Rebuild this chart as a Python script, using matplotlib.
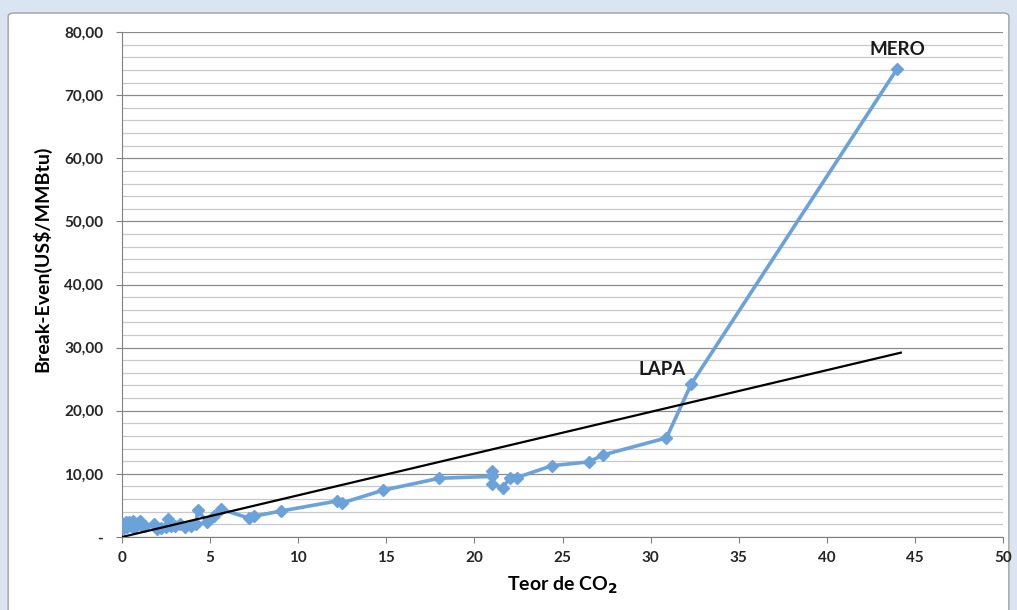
import matplotlib
matplotlib.use("Agg")
import matplotlib.pyplot as plt
from matplotlib.patches import FancyBboxPatch
from matplotlib.ticker import MultipleLocator, FuncFormatter

# teor de CO2 (%) x break-even (US$/MMBtu)
teor_co2 = [0.0, 0.1, 0.2, 0.3, 0.4, 0.5, 0.6, 0.7, 0.9, 1.0, 1.1, 1.3,
            1.8, 2.0, 2.2, 2.5, 2.6, 2.8, 3.0, 3.3, 3.6, 3.9, 4.2, 4.3,
            4.8, 5.2, 5.6, 7.2, 7.5, 9.0, 12.2, 12.5, 14.8, 18.0, 21.0,
            21.0, 21.0, 21.6, 22.0, 22.4, 24.4, 26.5, 27.3, 30.9, 32.3, 44.0]
break_even = [2.2, 1.4, 2.4, 1.6, 2.3, 1.8, 2.5, 1.5, 2.2, 2.6, 1.9, 1.7,
              2.0, 1.2, 1.5, 1.6, 2.8, 1.8, 1.7, 2.0, 1.6, 1.8, 2.1, 4.3,
              2.4, 3.3, 4.4, 3.0, 3.3, 4.1, 5.7, 5.4, 7.4, 9.3, 9.6,
              10.4, 8.4, 7.8, 9.3, 9.4, 11.3, 11.9, 13.0, 15.7, 24.2, 74.2]

trend_x = [0, 44.2]
trend_y = [0, 29.2]

campos = ["MERO", "LAPA"]
campos_pos = [(44.0, 77.3), (30.65, 26.5)]

plt.rcParams['font.family'] = ['Lato', 'DejaVu Sans']

fig = plt.figure(figsize=(10.17, 6.10), dpi=100)
fig.patch.set_facecolor("#dbe5f1")
caixa = FancyBboxPatch((0.008, -0.02), 0.984, 0.9987, boxstyle="round,pad=0,rounding_size=0.006",
                       transform=fig.transFigure, facecolor="white", edgecolor="#a0a0a0",
                       linewidth=1.0, zorder=-5)
fig.patches.append(caixa)

ax = fig.add_axes([0.12, 0.1197, 0.8662, 0.8278])
ax.set_facecolor("none")
ax.set_zorder(2)

ax.plot(teor_co2, break_even, color="#6ba2da", linewidth=2.6, marker="D",
        markersize=6, zorder=3)
ax.plot(trend_x, trend_y, color="black", linewidth=1.6, zorder=4)

for nome, (px, py) in zip(campos, campos_pos):
    ax.text(px, py, nome, ha="center", va="center", fontsize=13.5,
            fontweight="bold", color="#1a1a1a")

ax.set_xlim(0, 50)
ax.set_ylim(0, 80)
ax.xaxis.set_major_locator(MultipleLocator(5))
ax.yaxis.set_major_locator(MultipleLocator(10))
ax.yaxis.set_minor_locator(MultipleLocator(2))

def fmt_y(v, pos):
    if abs(v) < 1e-9:
        return "-"
    return f"{v:.2f}".replace(".", ",")

ax.yaxis.set_major_formatter(FuncFormatter(fmt_y))

ax.grid(True, axis="y", which="major", color="#8c8c8c", linewidth=0.9)
ax.grid(True, axis="y", which="minor", color="#c8c8c8", linewidth=0.9)
ax.set_axisbelow(True)

for s in ["top", "right"]:
    ax.spines[s].set_visible(False)
ax.spines["left"].set_color("#808080")
ax.spines["bottom"].set_color("#808080")

ax.tick_params(axis="y", which="major", length=4.5, color="#808080", labelsize=11, pad=9)
ax.tick_params(axis="y", which="minor", length=0)
ax.tick_params(axis="x", length=4, color="#808080", labelsize=11, pad=6)
for lbl in ax.get_xticklabels() + ax.get_yticklabels():
    lbl.set_fontweight("bold")
    lbl.set_color("#262626")

ax.set_xlabel("Teor de CO$_\\mathbf{2}$", fontsize=14, fontweight="bold")
ax.xaxis.set_label_coords(0.5, -0.074)
ax.set_ylabel("Break-Even(US$/MMBtu)", fontsize=14, fontweight="bold")
ax.yaxis.set_label_coords(-0.08, 0.55)

fig.savefig("out.png", dpi=100, facecolor=fig.get_facecolor())
